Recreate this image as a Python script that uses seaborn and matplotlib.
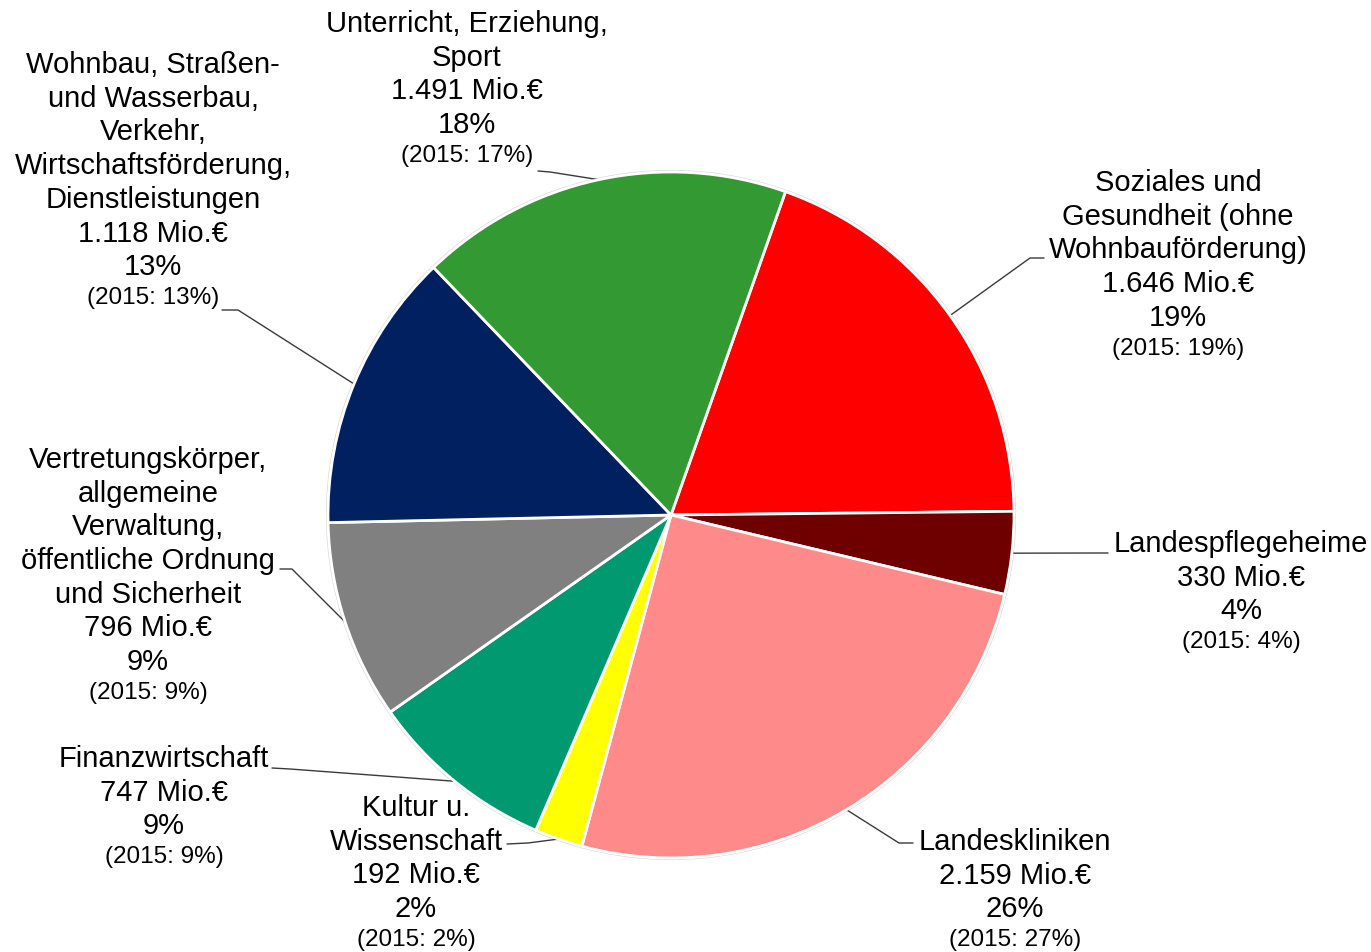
import numpy as np
import seaborn as sns
import matplotlib
matplotlib.use("Agg")
import matplotlib.pyplot as plt

# ==========================
# Data
# ==========================
categories = [
    "Soziales und\nGesundheit (ohne\nWohnbauförderung)",
    "Landespflegeheime",
    "Landeskliniken",
    "Kultur u.\nWissenschaft",
    "Finanzwirtschaft",
    "Vertretungskörper,\nallgemeine\nVerwaltung,\nöffentliche Ordnung\nund Sicherheit",
    "Wohnbau, Straßen-\nund Wasserbau,\nVerkehr,\nWirtschaftsförderung,\nDienstleistungen",
    "Unterricht, Erziehung,\nSport",
]
amounts = [1646, 330, 2159, 192, 747, 796, 1118, 1491]   # Mio. EUR
shares = [19, 4, 26, 2, 9, 9, 13, 18]                    # percent
shares_2015 = [19, 4, 27, 2, 9, 9, 13, 17]               # percent previous year
colors = ["#FF0000", "#6E0000", "#FF8A8A", "#FFFF00",
          "#009970", "#808080", "#002060", "#339933"]

# ==========================
# Layout (pixel coordinates, y from top)
# ==========================
W, H = 1371, 952
cx, cy, r = 671, 515, 343
# label center x, y of first line, leader elbow points (label side first)
label_layout = [
    dict(x=1178, y=183, leader=[(1044, 258), (1030, 258)]),
    dict(x=1241, y=544, leader=[(1108, 553), (1100, 553)]),
    dict(x=1015, y=842, leader=[(913, 843), (899, 843)]),
    dict(x=416, y=808, leader=[(507, 844), (528, 843)]),
    dict(x=164, y=759, leader=[(272, 768), (290, 769)]),
    dict(x=148, y=460, leader=[(280, 569), (292, 569)]),
    dict(x=153, y=65, leader=[(222, 310), (238, 310)]),
    dict(x=467, y=24, leader=[(538, 171), (550, 172)]),
]
pitch = 33.7
small_gap = 31

sns.set_theme(style="white")
plt.rcParams["font.family"] = ["Liberation Sans", "DejaVu Sans"]

fig = plt.figure(figsize=(W / 100, H / 100), dpi=100)
ax = fig.add_axes([0, 0, 1, 1])


def py(y):
    # convert pixel y (from top) to data y
    return H - y


wedges, _ = ax.pie(
    amounts,
    colors=colors,
    startangle=70.5,
    counterclock=False,
    center=(cx, py(cy)),
    radius=r,
    wedgeprops=dict(edgecolor="white", linewidth=2),
)
# faint outer ring like the original
ax.add_patch(plt.Circle((cx, py(cy)), r + 1.5, fill=False,
                        edgecolor="#d9d9d9", linewidth=0.8, zorder=0.4))
ax.set_xlim(0, W)
ax.set_ylim(0, H)
ax.set_aspect("equal")
ax.axis("off")

for wedge, name, amt, pct, pct15, lay in zip(wedges, categories, amounts,
                                             shares, shares_2015, label_layout):
    lines = name.split("\n") + [f"{amt:,} Mio.€".replace(",", "."), f"{pct}%"]
    for i, line in enumerate(lines):
        ax.text(lay["x"], py(lay["y"] + i * pitch), line, ha="center", va="center",
                fontsize=21, color="#000000")
    last_y = lay["y"] + (len(lines) - 1) * pitch + small_gap
    ax.text(lay["x"], py(last_y), f"(2015: {pct15}%)", ha="center", va="center",
            fontsize=17.5, color="#000000")

    # leader line to the middle of the slice edge
    mid = np.deg2rad((wedge.theta1 + wedge.theta2) / 2)
    ex = cx + r * np.cos(mid)
    ey = py(cy) + r * np.sin(mid)
    xs = [p[0] for p in lay["leader"]] + [ex]
    ys = [py(p[1]) for p in lay["leader"]] + [ey]
    ax.plot(xs, ys, color="#3a3a3a", linewidth=1.0, zorder=0.5)

fig.savefig("out.png", dpi=100)
